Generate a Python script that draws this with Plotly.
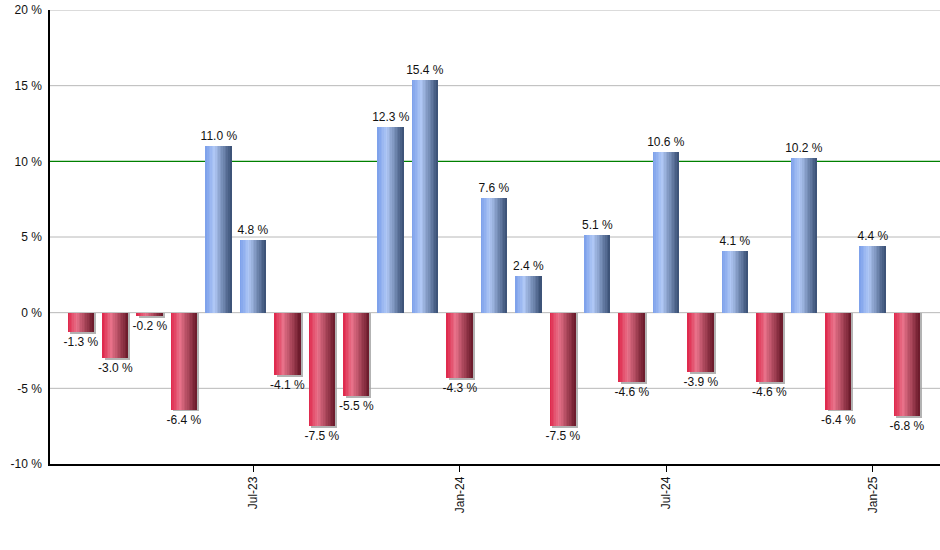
import plotly.graph_objects as go

months = ["Feb-23", "Mar-23", "Apr-23", "May-23", "Jun-23", "Jul-23", "Aug-23", "Sep-23",
          "Oct-23", "Nov-23", "Dec-23", "Jan-24", "Feb-24", "Mar-24", "Apr-24", "May-24",
          "Jun-24", "Jul-24", "Aug-24", "Sep-24", "Oct-24", "Nov-24", "Dec-24", "Jan-25", "Feb-25"]
values = [-1.3, -3.0, -0.2, -6.4, 11.0, 4.8, -4.1, -7.5, -5.5, 12.3, 15.4, -4.3, 7.6, 2.4,
          -7.5, 5.1, -4.6, 10.6, -3.9, 4.1, -4.6, 10.2, -6.4, 4.4, -6.8]
tick_labels = ["Jul-23", "Jan-24", "Jul-24", "Jan-25"]
y_ticks = [-10, -5, 0, 5, 10, 15, 20]
threshold = 10

xs = list(range(len(months)))
tick_pos = [months.index(t) for t in tick_labels]

BAR_W = 0.75
N = 16

def lerp(c1, c2, t):
    return tuple(int(round(a + (b - a) * t)) for a, b in zip(c1, c2))

def grad(stops, t):
    for i in range(len(stops) - 1):
        p0, c0 = stops[i]
        p1, c1 = stops[i + 1]
        if p0 <= t <= p1:
            return lerp(c0, c1, (t - p0) / (p1 - p0))
    return stops[-1][1]

blue_stops = [(0.0, (122, 158, 234)), (0.35, (176, 200, 245)), (1.0, (56, 78, 115))]
red_stops = [(0.0, (222, 36, 72)), (0.35, (232, 114, 138)), (1.0, (104, 24, 40))]

fig = go.Figure()

# shadow for negative bars
fig.add_trace(go.Bar(
    x=xs, y=[v - 0.13 if v < 0 else 0 for v in values],
    width=BAR_W, offset=-BAR_W / 2 + 0.06,
    marker=dict(color="rgba(160,160,160,0.8)", line=dict(width=0)),
    hoverinfo="skip", showlegend=False))

sw = BAR_W / N
for i in range(N):
    t = (i + 0.5) / N
    cb = grad(blue_stops, t)
    cr = grad(red_stops, t)
    colors = ["rgb(%d,%d,%d)" % (cb if v >= 0 else cr) for v in values]
    fig.add_trace(go.Bar(
        x=xs, y=values, width=sw * 1.08, offset=-BAR_W / 2 + i * sw,
        marker=dict(color=colors, line=dict(width=0)),
        hoverinfo="skip", showlegend=False))

# labels
fig.add_trace(go.Bar(
    x=xs, y=values, width=BAR_W,
    marker=dict(color="rgba(0,0,0,0)", line=dict(width=0)),
    text=["%.1f %%" % v for v in values], textposition="outside", constraintext="none",
    textfont=dict(family="Liberation Sans, Arial, sans-serif", size=12, color="#111"),
    cliponaxis=False, showlegend=False, hoverinfo="skip"))

# gridlines as shapes (so the threshold line is not covered)
for yv in y_ticks:
    if yv in (threshold, y_ticks[0]):
        continue
    fig.add_shape(type="line", xref="paper", x0=0, x1=1, yref="y", y0=yv, y1=yv,
                  line=dict(color="#b8b8b8", width=1), layer="below")
fig.add_shape(type="line", xref="paper", x0=0, x1=1, yref="y", y0=threshold, y1=threshold,
              line=dict(color="#008000", width=1.1), layer="below")

fig.update_layout(
    width=940, height=550,
    margin=dict(l=50, r=0, t=10, b=86),
    barmode="overlay", bargap=0,
    plot_bgcolor="white", paper_bgcolor="white",
    font=dict(family="Liberation Sans, Arial, sans-serif", size=12, color="#111"),
    xaxis=dict(range=[-0.9, 24.95], tickvals=tick_pos, ticktext=tick_labels, tickangle=-90,
               showgrid=False, showline=True, linecolor="black", linewidth=1.5,
               ticks="outside", ticklen=6, tickcolor="black", zeroline=False,
               tickfont=dict(size=12)),
    yaxis=dict(range=[-10, 20], tickvals=y_ticks,
               ticktext=["%d %%" % v for v in y_ticks],
               showgrid=False,
               showline=True, linecolor="black", linewidth=1.5, zeroline=False,
               ticks="", ticklabelstandoff=4, tickfont=dict(size=12)),
)

fig.write_html("out.html")
